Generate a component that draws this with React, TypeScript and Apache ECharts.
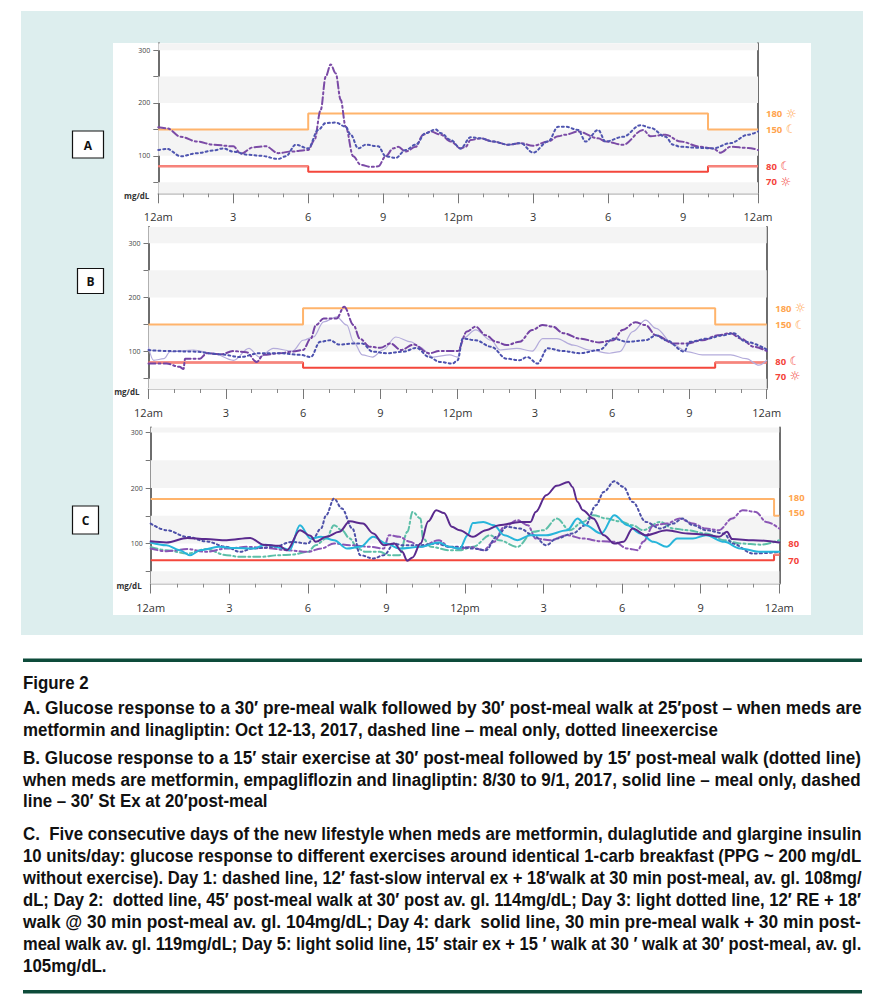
import React, { useEffect, useRef } from "react";
import * as echarts from "echarts";

// ---------------- data ----------------
const hourLabels = ["12am", "3", "6", "9", "12pm", "3", "6", "9", "12am"];
const yLabelValues = [100, 200, 300];
const yTickValues = [50, 100, 150, 200, 250, 300];
const rightLabelValues = [180, 150, 80, 70];
const rightLabelIcons = ["☼", "☾", "☾", "☼"];
const panelLetters = ["A", "B", "C"];

const yRangeA = [29, 313];
const yRangeB = [31, 330];
const yRangeC = [28, 309];

const targetEdgesAB = [0, 6, 22, 24];
const highTargetAB = [150, 180, 150];
const lowTargetAB = [80, 70, 80];
const nightAB = [true, false, true];
const targetEdgesC = [0, 23.8, 24];
const highTargetC = [180, 150];
const lowTargetC = [70, 80];
const nightC = [false, true];

// Panel A: meal only (dashed) and exercise (dotted)
const aMealOnly = [[0,154],[0.35,152],[0.9,136],[1.55,127],[2.2,121],[3.0,118],[3.3,104],[3.8,116],[4.3,118],[4.8,105],[5.3,108],[6.0,111],[6.25,130],[6.5,187],[6.7,250],[6.9,273],[7.1,256],[7.3,206],[7.5,155],[7.8,99],[8.1,83],[8.5,79],[8.8,80],[9.1,99],[9.4,114],[9.6,117],[9.9,108],[10.3,117],[10.6,140],[10.9,146],[11.3,140],[11.7,127],[12.1,114],[12.3,117],[12.5,130],[12.9,133],[13.4,127],[14.0,121],[14.5,124],[15.0,119],[15.6,127],[16.0,137],[16.3,140],[16.8,146],[17.6,133],[17.9,127],[18.6,121],[19.4,149],[19.7,137],[20.3,140],[20.9,127],[21.7,117],[22.2,114],[22.5,106],[22.9,117],[23.6,115],[24,111]];
const aExercise = [[0,111],[0.35,113],[0.9,99],[1.55,105],[2.2,110],[2.6,114],[3.0,108],[3.6,102],[4.1,100],[4.8,94],[5.1,99],[5.5,121],[6.0,114],[6.4,149],[6.7,162],[7.1,163],[7.5,155],[7.7,140],[8.0,114],[8.3,121],[8.8,118],[9.1,99],[9.5,96],[9.9,111],[10.3,121],[10.7,143],[11.1,150],[11.3,143],[11.7,130],[12.1,114],[12.5,135],[12.9,133],[13.4,127],[14.0,121],[14.5,124],[15.0,106],[15.6,127],[16.0,155],[16.3,155],[16.8,149],[17.1,127],[17.6,149],[17.9,127],[18.6,136],[19.3,158],[19.7,153],[20.3,136],[20.6,121],[20.9,117],[21.7,115],[22.2,114],[22.9,124],[23.6,140],[24,146]];

// Panel B: stair exercise (dashed), post-meal walk (dotted), meal only (light solid)
const bStairEx = [[0,78],[0.7,78],[1.2,72],[1.36,68],[1.42,87],[2.0,87],[2.26,97],[2.8,95],[3.3,101],[3.8,99],[4.2,81],[4.46,94],[5.1,97],[5.6,100],[6.0,103],[6.3,124],[6.5,149],[6.8,161],[7.3,161],[7.6,183],[7.96,149],[8.2,124],[8.6,109],[9.0,107],[9.4,115],[9.8,103],[10.3,113],[10.9,97],[11.3,101],[12.0,101],[12.36,137],[12.7,146],[13.1,130],[13.5,118],[13.9,112],[14.4,118],[14.9,140],[15.3,149],[15.7,146],[16.1,134],[16.75,124],[17.5,117],[18.05,121],[18.4,140],[18.9,154],[19.3,149],[19.7,130],[20.4,115],[20.9,115],[21.5,121],[22.1,130],[22.6,134],[23.0,124],[23.5,109],[24,101]];
const bPostWalk = [[0,103],[0.7,101],[1.75,100],[2.8,95],[3.56,90],[4.3,97],[5.1,97],[5.9,94],[6.3,90],[6.66,118],[7.05,121],[7.4,113],[7.96,115],[8.3,115],[8.7,100],[9.25,97],[9.9,100],[10.4,107],[10.9,90],[11.3,81],[11.8,78],[12.0,84],[12.2,124],[12.7,121],[13.3,109],[13.9,87],[14.4,84],[14.7,90],[15.1,78],[15.5,106],[16.1,101],[16.75,97],[17.5,103],[18.05,124],[18.6,118],[19.3,121],[19.7,130],[20.1,121],[20.8,100],[21.0,118],[21.7,124],[22.3,130],[22.7,134],[23.2,118],[24,104]];
const bMealOnly = [[0,108],[0.2,84],[0.6,87],[0.84,100],[1.75,103],[2.5,97],[3.3,84],[3.9,106],[4.3,90],[4.85,106],[5.6,101],[6.0,121],[6.4,127],[6.8,155],[7.3,164],[7.7,149],[7.96,118],[8.3,94],[8.7,90],[9.1,103],[9.6,127],[10.2,118],[10.5,109],[11.06,90],[11.7,94],[12.0,90],[12.2,124],[12.7,140],[13.3,121],[13.65,103],[14.3,106],[14.9,101],[15.3,124],[15.85,124],[16.5,112],[17.1,103],[17.9,97],[18.3,100],[18.8,137],[19.3,158],[19.7,143],[20.4,112],[20.9,100],[21.5,94],[22.3,94],[22.6,94],[23.2,87],[23.7,75],[24,84]];

// Panel C: five days
const cDay1 = [[0,91],[0.6,86],[1.4,90],[2.1,85],[2.9,91],[3.7,94],[4.4,92],[5.2,88],[6.0,85],[6.5,91],[7.0,100],[7.6,97],[8.4,94],[8.9,91],[9.1,115],[9.5,112],[9.9,103],[10.3,94],[11.0,106],[11.4,94],[11.8,91],[12.2,94],[12.7,88],[13.1,103],[13.5,130],[14.0,142],[14.4,133],[14.7,109],[15.25,106],[15.9,115],[16.5,109],[17.2,104],[17.7,103],[18.2,91],[18.6,88],[18.8,103],[19.2,133],[19.7,136],[20.2,145],[20.7,136],[21.2,127],[21.7,124],[22.2,145],[22.6,160],[23.1,157],[23.5,139],[24,127]];
const cDay2 = [[0,136],[0.6,124],[1.4,112],[2.1,104],[2.9,94],[3.4,85],[3.9,91],[4.7,94],[5.4,103],[6.0,100],[6.2,109],[6.5,127],[6.7,151],[7.0,181],[7.3,163],[7.7,127],[8.0,79],[8.5,73],[8.9,79],[9.3,100],[9.6,97],[10.3,97],[10.9,100],[11.4,94],[11.8,94],[12.3,91],[12.8,88],[13.2,112],[13.6,130],[14.1,127],[14.6,115],[15.1,97],[15.5,109],[16.1,118],[16.6,133],[17.0,169],[17.3,193],[17.7,212],[18.05,202],[18.4,175],[18.9,139],[19.45,127],[19.95,136],[20.3,145],[20.7,133],[21.2,124],[21.9,118],[22.2,100],[23.0,82],[24,85]];
const cDay3 = [[0,94],[0.6,88],[1.4,82],[2.1,90],[2.9,79],[3.4,76],[4.2,76],[4.9,79],[5.4,80],[6.0,85],[6.3,97],[6.7,109],[7.0,133],[7.3,124],[7.6,109],[7.9,91],[8.2,85],[8.75,85],[9.1,79],[9.5,79],[9.8,121],[10.0,157],[10.3,145],[10.4,109],[10.7,94],[11.4,88],[11.8,88],[12.3,94],[12.96,115],[13.3,106],[14.0,94],[14.6,121],[15.0,124],[15.5,145],[16.0,124],[16.5,139],[16.9,151],[17.4,145],[17.9,140],[18.4,133],[18.8,124],[19.45,139],[19.95,127],[20.5,124],[21.2,118],[21.9,106],[22.5,100],[23.3,98],[24,106]];
const cDay4 = [[0,104],[0.6,102],[1.4,110],[2.1,108],[2.9,106],[3.8,110],[4.3,98],[4.9,96],[5.2,88],[5.7,124],[6.1,114],[6.3,103],[6.7,112],[7.2,121],[7.6,140],[8.1,136],[8.5,118],[8.9,97],[9.3,100],[9.6,85],[9.8,69],[10.0,75],[10.3,100],[10.6,140],[10.9,160],[11.2,155],[11.5,130],[11.8,124],[12.3,112],[12.8,124],[13.3,133],[14.1,139],[14.5,139],[14.7,157],[15.1,187],[15.5,204],[15.95,211],[16.1,202],[16.3,175],[16.5,160],[16.9,145],[17.3,115],[17.7,100],[18.05,103],[18.4,127],[18.9,115],[19.7,124],[20.5,118],[21.2,116],[21.7,112],[22.0,121],[22.2,108],[23.0,106],[24,102]];
const cDay5 = [[0,102],[0.6,97],[1.1,88],[1.5,79],[1.9,88],[2.6,94],[3.2,92],[3.9,91],[4.4,98],[5.1,91],[5.3,88],[5.7,133],[6.1,109],[6.5,112],[7.0,106],[7.5,91],[8.0,94],[8.5,112],[9.0,100],[9.5,91],[10.3,94],[11.0,102],[11.4,94],[11.8,91],[12.1,115],[12.3,137],[12.7,139],[13.1,133],[13.5,115],[14.0,106],[14.5,115],[15.1,115],[15.9,124],[16.3,145],[16.6,133],[17.2,118],[17.7,151],[18.2,133],[18.7,118],[19.2,103],[19.7,94],[20.1,109],[20.7,109],[21.2,115],[21.9,103],[22.5,91],[23.3,85],[24,85]];

// caption
const captionTitle = "Figure 2";
const captionA = [
  "A. Glucose response to a 30′ pre-meal walk followed by 30′ post-meal walk at 25′post – when meds are",
  "metformin and linagliptin: Oct 12-13, 2017, dashed line – meal only, dotted lineexercise",
];
const captionB = [
  "B. Glucose response to a 15′ stair exercise at 30′ post-meal followed by 15′ post-meal walk (dotted line)",
  "when meds are metformin, empagliflozin and linagliptin: 8/30 to 9/1, 2017, solid line – meal only, dashed",
  "line – 30′ St Ex at 20′post-meal",
];
const captionC = [
  "C.  Five consecutive days of the new lifestyle when meds are metformin, dulaglutide and glargine insulin",
  "10 units/day: glucose response to different exercises around identical 1-carb breakfast (PPG ~ 200 mg/dL",
  "without exercise). Day 1: dashed line, 12′ fast-slow interval ex + 18′walk at 30 min post-meal, av. gl. 108mg/",
  "dL; Day 2:  dotted line, 45′ post-meal walk at 30′ post av. gl. 114mg/dL; Day 3: light dotted line, 12′ RE + 18′",
  "walk @ 30 min post-meal av. gl. 104mg/dL; Day 4: dark  solid line, 30 min pre-meal walk + 30 min post-",
  "meal walk av. gl. 119mg/dL; Day 5: light solid line, 15′ stair ex + 15 ′ walk at 30 ′ walk at 30′ post-meal, av. gl.",
  "105mg/dL.",
];

// ---------------- layout / style ----------------
const GRIDS = [
  { left: 158.3, top: 43.3, width: 599.7, height: 150 },
  { left: 148.5, top: 227, width: 618.2, height: 162 },
  { left: 150.7, top: 427.5, width: 628.6, height: 156 },
];
const Y_RANGES = [yRangeA, yRangeB, yRangeC];
const LETTER_BOXES = [
  { x: 72.5, y: 131, w: 31, h: 27 },
  { x: 77.5, y: 268.5, w: 26, h: 25 },
  { x: 72.5, y: 506, w: 26, h: 28 },
];
const LABEL_NUDGE = [
  [0, 0, 0, 10],
  [0, 0, -1, 8.5],
  [-1.5, -3, -11, 0],
];
const LABEL_DX = [8, 8.5, 9];
const SHOW_ICONS = [true, true, false];

const ORANGE = "#FFB46C";
const RED = "#F4473C";
const SALMON = "#F6857D";
const AXIS_FONT = '"Open Sans", "Noto Sans", sans-serif';

function stepPairs(edges: number[], vals: number[]) {
  const out: number[][] = [];
  vals.forEach((v, i) => {
    out.push([edges[i], v]);
    out.push([edges[i + 1], v]);
  });
  return out;
}

function lineSeries(g: number, data: number[][], color: string, type: any, width = 2, z = 5) {
  return {
    type: "line",
    xAxisIndex: g,
    yAxisIndex: g * 2,
    data,
    symbol: "none",
    showSymbol: false,
    smooth: 0.35,
    smoothMonotone: "x",
    lineStyle: { color, width, type, cap: "round" },
    z,
    silent: true,
  };
}

function targetSeries(g: number, edges: number[], high: number[], low: number[], night: boolean[], range: number[]) {
  const bands = [
    [range[0], 50],
    [100, 150],
    [200, 250],
    [300, range[1]],
  ];
  const out: any[] = [
    {
      type: "line",
      xAxisIndex: g,
      yAxisIndex: g * 2,
      data: stepPairs(edges, high),
      symbol: "none",
      lineStyle: { color: ORANGE, width: 2 },
      z: 3,
      silent: true,
      markArea: {
        silent: true,
        itemStyle: { color: "#F4F4F4" },
        data: bands.map(([a, b]) => [{ yAxis: a }, { yAxis: b }]),
      },
    },
    {
      type: "line",
      xAxisIndex: g,
      yAxisIndex: g * 2,
      data: stepPairs(edges, low),
      symbol: "none",
      lineStyle: { color: RED, width: 2 },
      z: 3,
      silent: true,
    },
  ];
  low.forEach((v, i) => {
    if (night[i]) {
      out.push({
        type: "line",
        xAxisIndex: g,
        yAxisIndex: g * 2,
        data: [
          [edges[i], v],
          [edges[i + 1], v],
        ],
        symbol: "none",
        lineStyle: { color: SALMON, width: 2 },
        z: 3,
        silent: true,
      });
    }
  });
  return out;
}

function buildStaticGraphics() {
  const els: any[] = [];
  els.push({ type: "rect", z: -20, silent: true, shape: { x: 21, y: 11, width: 842, height: 624 }, style: { fill: "#DDEEEE" } });
  els.push({ type: "rect", z: -19, silent: true, shape: { x: 113, y: 43, width: 698, height: 572 }, style: { fill: "#FFFFFF" } });
  LETTER_BOXES.forEach((b, i) => {
    els.push({ type: "rect", z: 10, shape: { x: b.x, y: b.y, width: b.w, height: b.h }, style: { fill: "#fff", stroke: "#111", lineWidth: 1.2 } });
    els.push({
      type: "text",
      z: 11,
      x: b.x + b.w / 2,
      y: b.y + b.h / 2 + 0.5,
      style: { text: panelLetters[i], fill: "#111", font: 'bold 12px "Open Sans", sans-serif', align: "center", verticalAlign: "middle" },
    });
  });
  // mg/dL labels
  GRIDS.forEach((g) => {
    els.push({
      type: "text",
      z: 10,
      x: g.left - 9,
      y: g.top + g.height + 2,
      style: { text: "mg/dL", fill: "#333", font: 'bold 8px "Open Sans", sans-serif', align: "right", verticalAlign: "middle" },
    });
  });

  // caption
  const ctx = document.createElement("canvas").getContext("2d") as CanvasRenderingContext2D;
  const fs = 18.5;
  const font = `bold ${fs}px "Liberation Sans"`;
  ctx.font = font;
  const X0 = 23;
  const FULL = 839;
  els.push({ type: "rect", shape: { x: 23, y: 658.5, width: 839, height: 3.5 }, style: { fill: "#0D4B3A" } });
  els.push({ type: "rect", shape: { x: 23, y: 990, width: 839, height: 3.5 }, style: { fill: "#0D4B3A" } });
  const paragraphs = [
    { lines: captionA, y0: 708, dy: 21.5 },
    { lines: captionB, y0: 758, dy: 21.5 },
    { lines: captionC, y0: 834, dy: 22 },
  ];
  const scales: number[] = [];
  paragraphs.forEach((p) => p.lines.slice(0, -1).forEach((t) => scales.push(FULL / ctx.measureText(t).width)));
  const sorted = [...scales].sort((a, b) => a - b);
  const med = sorted[Math.floor(sorted.length / 2)] || 0.8;
  els.push({
    type: "text",
    x: X0,
    y: 683,
    scaleX: med,
    style: { text: captionTitle, fill: "#111", font, align: "left", verticalAlign: "middle" },
  });
  paragraphs.forEach((p) => {
    p.lines.forEach((t, i) => {
      const last = i === p.lines.length - 1;
      const s = last ? med : FULL / ctx.measureText(t).width;
      els.push({
        type: "text",
        x: X0,
        y: p.y0 + i * p.dy,
        scaleX: s,
        style: { text: t, fill: "#111", font, align: "left", verticalAlign: "middle" },
      });
    });
  });
  return els;
}

function buildOption() {
  const grids = GRIDS.map((g) => ({ ...g, containLabel: false }));
  const xAxes = GRIDS.map((_, i) => ({
    type: "value",
    gridIndex: i,
    min: 0,
    max: 24,
    interval: 3,
    axisLine: { show: true, lineStyle: { color: "#CCCCCC", width: 2 } },
    axisTick: { show: true, length: 10, lineStyle: { color: "#777", width: 1 } },
    minorTick: { show: true, splitNumber: 3, length: 4, lineStyle: { color: "#888", width: 1 } },
    splitLine: { show: false },
    minorSplitLine: { show: false },
    axisLabel: {
      show: true,
      margin: 18,
      fontSize: 11,
      color: "#333",
      fontFamily: AXIS_FONT,
      showMinLabel: true,
      showMaxLabel: true,
      formatter: (v: number) => hourLabels[Math.round(v / 3)] ?? "",
    },
  }));
  const yAxes: any[] = [];
  GRIDS.forEach((_, i) => {
    const r = Y_RANGES[i];
    yAxes.push({
      type: "value",
      gridIndex: i,
      position: "left",
      min: r[0],
      max: r[1],
      axisLine: { show: true, lineStyle: { color: "#6E6E6E", width: 2 } },
      axisTick: { show: true, length: 5, customValues: yTickValues, lineStyle: { color: "#777" } },
      axisLabel: { show: true, customValues: yLabelValues, fontSize: 7, color: "#444", margin: 8, fontFamily: AXIS_FONT },
      splitLine: { show: false },
    });
    yAxes.push({
      type: "value",
      gridIndex: i,
      position: "right",
      min: r[0],
      max: r[1],
      axisLine: { show: true, lineStyle: { color: "#6E6E6E", width: 2 } },
      axisTick: { show: false },
      axisLabel: { show: false },
      splitLine: { show: false },
    });
  });

  const dashDot = [7, 3, 2, 3];
  const dotted = [2, 3];
  const series: any[] = [
    ...targetSeries(0, targetEdgesAB, highTargetAB, lowTargetAB, nightAB, yRangeA),
    ...targetSeries(1, targetEdgesAB, highTargetAB, lowTargetAB, nightAB, yRangeB),
    ...targetSeries(2, targetEdgesC, highTargetC, lowTargetC, nightC, yRangeC),
    lineSeries(0, aMealOnly, "#7B4BA6", dashDot),
    lineSeries(0, aExercise, "#4F55B0", dotted),
    lineSeries(1, bMealOnly, "#B4ACDB", "solid", 1.2),
    lineSeries(1, bStairEx, "#7443A3", dashDot),
    lineSeries(1, bPostWalk, "#4B50AE", dotted),
    lineSeries(2, cDay3, "#5DBFA8", dashDot),
    lineSeries(2, cDay1, "#8A55B5", dashDot),
    lineSeries(2, cDay2, "#4D50A8", dotted),
    lineSeries(2, cDay5, "#27B5DA", "solid"),
    lineSeries(2, cDay4, "#5A2A8E", "solid"),
  ];

  return {
    animation: false,
    backgroundColor: "#FFFFFF",
    grid: grids,
    xAxis: xAxes,
    yAxis: yAxes,
    series,
    graphic: buildStaticGraphics(),
  };
}

export default function App() {
  const ref = useRef<HTMLDivElement>(null);
  useEffect(() => {
    if (!ref.current) return;
    const chart = echarts.init(ref.current, undefined, { renderer: "svg" });
    const option: any = buildOption();
    chart.setOption(option);

    // right-hand threshold labels, positioned through the axes
    const labels: any[] = [];
    GRIDS.forEach((_, gi) => {
      rightLabelValues.forEach((v, k) => {
        const p = chart.convertToPixel({ gridIndex: gi } as any, [24, v]) as number[];
        if (!p) return;
        const color = v >= 150 ? "#FFA44E" : "#F4433A";
        const text = SHOW_ICONS[gi] ? `{n|${v}} {i|${rightLabelIcons[k]}}` : `{n|${v}}`;
        labels.push({
          type: "text",
          z: 10,
          x: p[0] + LABEL_DX[gi],
          y: p[1] + LABEL_NUDGE[gi][k],
          style: {
            text,
            fill: color,
            align: "left",
            verticalAlign: "middle",
            rich: {
              n: { fontSize: 9.5, fontWeight: "bold", fontFamily: AXIS_FONT, fill: color },
              i: { fontSize: 12, fontWeight: "bold", fontFamily: '"DejaVu Sans", sans-serif', fill: color },
            },
          },
        });
      });
    });
    chart.setOption({ graphic: [...option.graphic, ...labels] }, { replaceMerge: ["graphic"] } as any);

    return () => chart.dispose();
  }, []);
  return <div ref={ref} style={{ position: "absolute", left: 0, top: 0, width: 880, height: 1003 }} />;
}
